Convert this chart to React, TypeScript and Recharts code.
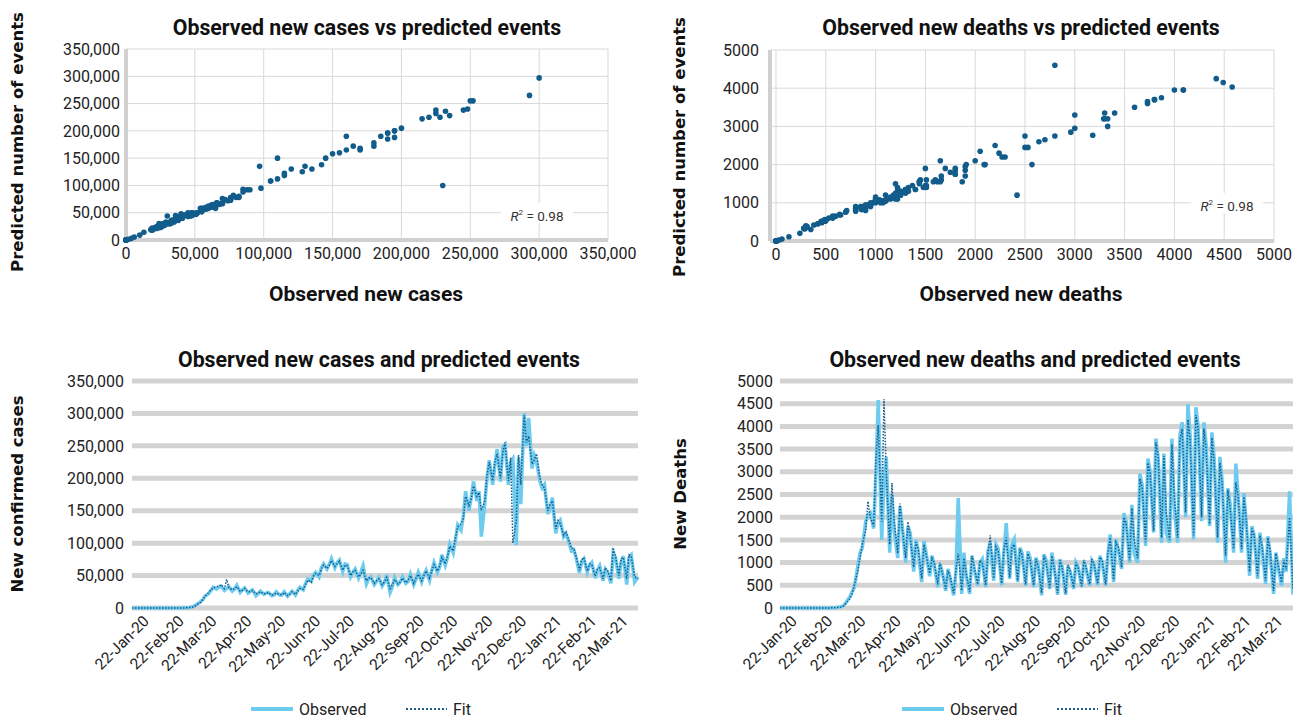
import React from 'react'
import { ScatterChart, Scatter, LineChart, Line, XAxis, YAxis, CartesianGrid } from 'recharts'

// three readings per week (Wed, Fri, Mon) from 22-Jan-20, plus the last day
const sampleDays = Array.from({ length: 64 }, (_, w) => [7 * w, 7 * w + 2, 7 * w + 5]).flat().concat([449])

const monthTicks = [0, 31, 60, 91, 121, 152, 182, 213, 244, 274, 305, 335, 366, 397, 425]
const monthLabels = [
  '22-Jan-20', '22-Feb-20', '22-Mar-20', '22-Apr-20', '22-May-20', '22-Jun-20', '22-Jul-20', '22-Aug-20',
  '22-Sep-20', '22-Oct-20', '22-Nov-20', '22-Dec-20', '22-Jan-21', '22-Feb-21', '22-Mar-21',
]

const casesObserved = [
  0, 0, 0, 0, 0, 0, 0, 0, 0, 0, 0, 0,
  0, 0, 0, 0, 0, 0, 30, 80, 200, 400, 800, 1800,
  4000, 6000, 10000, 13000, 19000, 22000, 27000, 32000, 29000, 32000, 34000, 27000,
  30000, 33000, 26000, 29000, 35000, 24000, 28000, 31000, 23000, 26000, 28000, 19000,
  22000, 26000, 21000, 23000, 24000, 19000, 20000, 25000, 20000, 20000, 25000, 18000,
  22000, 26000, 20000, 27000, 32000, 28000, 38000, 45000, 41000, 51000, 55000, 48000,
  62000, 68000, 60000, 67000, 76000, 62000, 70000, 74000, 56000, 68000, 67000, 48000,
  55000, 60000, 46000, 55000, 65000, 37000, 45000, 48000, 36000, 41000, 47000, 34000,
  40000, 51000, 24000, 33000, 47000, 36000, 40000, 48000, 38000, 41000, 52000, 36000,
  45000, 55000, 40000, 51000, 58000, 43000, 58000, 70000, 55000, 63000, 82000, 66000,
  78000, 98000, 85000, 105000, 128000, 120000, 142000, 180000, 150000, 170000, 195000, 165000,
  180000, 110000, 160000, 200000, 228000, 190000, 220000, 245000, 195000, 248000, 252000, 190000,
  225000, 230000, 97000, 232000, 160000, 300000, 250000, 293000, 215000, 235000, 225000, 195000,
  185000, 190000, 145000, 155000, 170000, 115000, 130000, 135000, 110000, 115000, 105000, 88000,
  90000, 78000, 54000, 72000, 76000, 55000, 66000, 70000, 46000, 58000, 65000, 42000,
  60000, 55000, 38000, 85000, 78000, 45000, 70000, 80000, 36000, 78000, 82000, 40000,
  48000,
]

const casesFit = [
  0, 0, 0, 0, 0, 0, 0, 0, 0, 0, 0, 0,
  0, 0, 0, 0, 0, 0, 20, 60, 150, 300, 700, 1500,
  3000, 5500, 9000, 14000, 18000, 24000, 28000, 31000, 33000, 33000, 36000, 30000,
  44000, 31000, 28000, 30000, 33000, 26000, 27000, 30000, 25000, 25000, 27000, 22000,
  23000, 25000, 22000, 22000, 24000, 20000, 21000, 23000, 21000, 20000, 24000, 19000,
  21000, 25000, 21000, 26000, 30000, 29000, 36000, 43000, 40000, 49000, 53000, 50000,
  60000, 66000, 61000, 66000, 73000, 64000, 68000, 72000, 58000, 66000, 65000, 50000,
  56000, 58000, 48000, 52000, 58000, 42000, 46000, 47000, 38000, 42000, 45000, 36000,
  40000, 47000, 30000, 36000, 44000, 37000, 40000, 46000, 39000, 43000, 50000, 38000,
  46000, 52000, 42000, 50000, 57000, 46000, 57000, 67000, 57000, 65000, 78000, 68000,
  80000, 95000, 88000, 108000, 125000, 130000, 138000, 172000, 158000, 168000, 188000, 172000,
  178000, 150000, 165000, 205000, 225000, 196000, 225000, 238000, 200000, 240000, 255000, 196000,
  232000, 100000, 135000, 236000, 190000, 297000, 255000, 265000, 222000, 228000, 238000, 200000,
  190000, 185000, 150000, 160000, 165000, 122000, 135000, 130000, 112000, 118000, 108000, 92000,
  92000, 80000, 58000, 74000, 78000, 57000, 68000, 67000, 49000, 60000, 62000, 45000,
  62000, 58000, 42000, 93000, 80000, 50000, 76000, 78000, 45000, 82000, 80000, 48000,
  45000,
]

const deathsObserved = [
  0, 0, 0, 0, 0, 0, 0, 0, 0, 0, 0, 0,
  0, 0, 0, 0, 0, 0, 2, 4, 8, 10, 15, 30,
  60, 130, 240, 350, 450, 900, 1200, 1330, 1900, 2050, 2100, 1750,
  3000, 4580, 1500, 2800, 3330, 1220, 2500, 1700, 1100, 2240, 1800, 1000,
  1800, 1650, 800, 1500, 1250, 570, 1480, 1200, 700, 1150, 950, 460,
  970, 800, 380, 860, 650, 280, 800, 2420, 310, 1220, 700, 310,
  1150, 850, 490, 1000, 1075, 460, 1250, 1450, 600, 1400, 1300, 500,
  1250, 1870, 640, 1400, 1510, 570, 1330, 1200, 490, 1250, 1100, 460,
  1110, 950, 280, 1180, 1050, 420, 1220, 900, 290, 1075, 900, 290,
  930, 800, 420, 1000, 900, 460, 1040, 850, 490, 1040, 950, 500,
  1150, 1000, 490, 1180, 1620, 570, 1510, 1300, 860, 2090, 1900, 1000,
  2270, 1200, 1000, 2960, 2700, 1370, 3290, 3000, 1660, 3730, 3300, 1440,
  3400, 1650, 1440, 3730, 2200, 1440, 3800, 4090, 2000, 4490, 3800, 1510,
  4420, 4000, 1910, 4090, 3600, 1800, 3870, 3300, 1440, 3330, 2800, 1000,
  2640, 2300, 1220, 3180, 2500, 1220, 2530, 1900, 710, 1800, 1600, 640,
  1660, 1300, 530, 1580, 1200, 310, 1220, 900, 490, 1100, 800, 2570,
  300,
]

const deathsFit = [
  0, 0, 0, 0, 0, 0, 0, 0, 0, 0, 0, 0,
  0, 0, 0, 0, 0, 0, 1, 3, 6, 8, 14, 25,
  50, 110, 200, 300, 500, 800, 1100, 1400, 1700, 2350, 2000, 1800,
  3300, 4030, 1900, 4600, 3000, 1400, 2750, 1900, 1200, 2300, 1750, 1100,
  1900, 1550, 900, 1450, 1300, 650, 1400, 1150, 760, 1100, 1000, 520,
  1000, 780, 420, 820, 680, 330, 850, 1200, 380, 1100, 760, 360,
  1150, 900, 520, 1050, 1000, 500, 1200, 1600, 650, 1350, 1250, 540,
  1300, 1550, 680, 1350, 1400, 600, 1300, 1150, 520, 1200, 1050, 500,
  1080, 900, 330, 1150, 1000, 450, 1150, 880, 330, 1050, 880, 320,
  950, 820, 450, 1000, 880, 480, 1060, 880, 520, 1080, 950, 530,
  1120, 1050, 520, 1200, 1550, 620, 1450, 1350, 900, 2000, 1850, 1050,
  2200, 1500, 1100, 2850, 2650, 1450, 3200, 2950, 1700, 3650, 3350, 1550,
  3350, 2100, 1500, 3600, 2500, 1550, 3700, 3950, 2100, 4150, 3700, 1600,
  4250, 3950, 2000, 3950, 3500, 1850, 3750, 3200, 1550, 3200, 2750, 1150,
  2600, 2200, 1300, 2770, 2450, 1300, 2450, 1950, 800, 1750, 1600, 700,
  1600, 1350, 600, 1550, 1250, 380, 1200, 950, 560, 1050, 850, 2000,
  400,
]

const casesTicks = [0, 50000, 100000, 150000, 200000, 250000, 300000, 350000]
const deathsTicks = [0, 500, 1000, 1500, 2000, 2500, 3000, 3500, 4000, 4500, 5000]
const deathsScatterTicks = [0, 1000, 2000, 3000, 4000, 5000]
const seriesNames = ['Observed', 'Fit']

const FONT = 'Roboto, sans-serif'
const AXIS_TITLE_FONT = '"DejaVu Sans", sans-serif'
const DOT = '#125c8b'
const OBS = '#6ccbee'
const FIT = '#1b5c8c'
const BAND = '#d3d3d3'

const casesRows = sampleDays.map((day, i) => ({ day, observed: casesObserved[i], fit: casesFit[i] }))
const deathsRows = sampleDays.map((day, i) => ({ day, observed: deathsObserved[i], fit: deathsFit[i] }))
const casesPairs = casesObserved.map((v, i) => ({ x: v, y: casesFit[i] }))
const deathsPairs = deathsObserved.map((v, i) => ({ x: v, y: deathsFit[i] }))

const comma = (v: number) => v.toLocaleString('en-US')
const tickStyle = { fontFamily: FONT, fontSize: 16, fill: '#222' }

const Dot = (p: any) => <circle cx={p.cx} cy={p.cy} r={2.8} fill={DOT} />

const DateTick = (props: any) => {
  const { x, y, payload } = props
  const label = monthLabels[monthTicks.indexOf(payload.value)]
  return (
    <g transform={`translate(${x + 18},${y + 14})`}>
      <text textAnchor="end" transform="rotate(-45)" fontFamily={FONT} fontSize={15.5} fill="#222">
        {label}
      </text>
    </g>
  )
}

const Title = ({ cx, y, text, size = 21.3 }: { cx: number; y: number; text: string; size?: number }) => (
  <div
    style={{
      position: 'absolute', left: cx - 300, top: y, width: 600, textAlign: 'center',
      fontFamily: FONT, fontWeight: 700, fontSize: size, color: '#111', lineHeight: '24px',
    }}
  >
    {text}
  </div>
)

const VTitle = ({ cx, cy, text }: { cx: number; cy: number; text: string }) => (
  <div
    style={{
      position: 'absolute', left: cx - 200, top: cy - 12, width: 400, height: 24, textAlign: 'center',
      fontFamily: AXIS_TITLE_FONT, fontWeight: 700, fontSize: 16.5, color: '#111', lineHeight: '24px',
      transform: 'rotate(-90deg)',
    }}
  >
    {text}
  </div>
)

const RSquared = ({ cx, y }: { cx: number; y: number }) => (
  <div
    style={{
      position: 'absolute', left: cx - 36, top: y - 10, width: 72, height: 20, background: '#fff',
      textAlign: 'center', fontFamily: FONT, fontSize: 13.5, color: '#333', lineHeight: '20px',
    }}
  >
    <i>R</i>
    <sup style={{ fontSize: 8 }}>2</sup> = 0.98
  </div>
)

const LegendRow = ({ left }: { left: number }) => (
  <div style={{ position: 'absolute', left, top: 698, height: 22, display: 'flex', alignItems: 'center', fontFamily: FONT, fontSize: 16, color: '#222' }}>
    <svg width={42} height={8}><line x1={0} y1={4} x2={42} y2={4} stroke={OBS} strokeWidth={4} /></svg>
    <span style={{ marginLeft: 6, width: 107 }}>{seriesNames[0]}</span>
    <svg width={41} height={8}><line x1={0} y1={4} x2={41} y2={4} stroke={FIT} strokeWidth={2} strokeDasharray="2 2" /></svg>
    <span style={{ marginLeft: 6 }}>{seriesNames[1]}</span>
  </div>
)

const App: React.FC = () => {
  return (
    <div style={{ position: 'absolute', left: 0, top: 0, width: 1293, height: 717, overflow: 'hidden', background: '#fff' }}>
      {/* top left: cases scatter */}
      <div style={{ position: 'absolute', left: 0, top: 0 }}>
        <ScatterChart width={650} height={270} margin={{ top: 49, right: 42, bottom: 0, left: 0 }}>
          <CartesianGrid stroke="#d9d9d9" />
          <XAxis type="number" dataKey="x" domain={[0, 350000]} ticks={casesTicks} tickFormatter={comma}
            height={30} tickSize={0} tickMargin={8} tick={tickStyle} axisLine={{ stroke: '#d0d0d0', strokeWidth: 4 }} interval={0} />
          <YAxis type="number" dataKey="y" domain={[0, 350000]} ticks={casesTicks} tickFormatter={comma}
            width={126} tickSize={0} tickMargin={6} tick={tickStyle} axisLine={{ stroke: '#d0d0d0', strokeWidth: 4 }} interval={0} />
          <Scatter data={casesPairs} shape={Dot} isAnimationActive={false} />
        </ScatterChart>
      </div>

      {/* top right: deaths scatter */}
      <div style={{ position: 'absolute', left: 650, top: 0 }}>
        <ScatterChart width={643} height={270} margin={{ top: 50, right: 19, bottom: 0, left: 0 }}>
          <CartesianGrid stroke="#d9d9d9" />
          <XAxis type="number" dataKey="x" domain={[-60, 5000]} ticks={deathsTicks}
            height={29} tickSize={0} tickMargin={8} tick={tickStyle} axisLine={{ stroke: '#d0d0d0', strokeWidth: 4 }} interval={0} />
          <YAxis type="number" dataKey="y" domain={[0, 5000]} ticks={deathsScatterTicks}
            width={120} tickSize={0} tickMargin={11} tick={tickStyle} axisLine={{ stroke: '#d0d0d0', strokeWidth: 4 }} interval={0} />
          <Scatter data={deathsPairs} shape={Dot} isAnimationActive={false} />
        </ScatterChart>
      </div>

      {/* bottom left: cases over time */}
      <div style={{ position: 'absolute', left: 0, top: 340 }}>
        <LineChart width={650} height={377} data={casesRows} margin={{ top: 41, right: 12, bottom: 0, left: 0 }}>
          <CartesianGrid vertical={false} stroke={BAND} strokeWidth={5} />
          <XAxis type="number" dataKey="day" domain={[0, 449]} ticks={monthTicks} tick={<DateTick />}
            height={109} tickSize={0} tickMargin={0} axisLine={false} interval={0} />
          <YAxis domain={[0, 350000]} ticks={casesTicks} tickFormatter={comma} width={132}
            tickSize={0} tickMargin={8} tick={tickStyle} axisLine={false} interval={0} />
          <Line type="linear" dataKey="observed" stroke={OBS} strokeWidth={3.5} dot={false} isAnimationActive={false} />
          <Line type="linear" dataKey="fit" stroke={FIT} strokeWidth={1.5} strokeDasharray="1.5 1.5" dot={false} isAnimationActive={false} />
        </LineChart>
      </div>

      {/* bottom right: deaths over time */}
      <div style={{ position: 'absolute', left: 650, top: 340 }}>
        <LineChart width={643} height={377} data={deathsRows} margin={{ top: 41, right: 0, bottom: 0, left: 0 }}>
          <CartesianGrid vertical={false} stroke={BAND} strokeWidth={5} />
          <XAxis type="number" dataKey="day" domain={[0, 449]} ticks={monthTicks} tick={<DateTick />}
            height={109} tickSize={0} tickMargin={0} axisLine={false} interval={0} />
          <YAxis domain={[0, 5000]} ticks={deathsTicks} width={130}
            tickSize={0} tickMargin={7} tick={tickStyle} axisLine={false} interval={0} />
          <Line type="linear" dataKey="observed" stroke={OBS} strokeWidth={3.5} dot={false} isAnimationActive={false} />
          <Line type="linear" dataKey="fit" stroke={FIT} strokeWidth={1.5} strokeDasharray="1.5 1.5" dot={false} isAnimationActive={false} />
        </LineChart>
      </div>

      <Title cx={367} y={16} text="Observed new cases vs predicted events" />
      <Title cx={1021} y={16} text="Observed new deaths vs predicted events" />
      <Title cx={379} y={348} text="Observed new cases and predicted events" />
      <Title cx={1035} y={348} text="Observed new deaths and predicted events" />
      <Title cx={366} y={282} text="Observed new cases" size={21} />
      <Title cx={1021} y={282} text="Observed new deaths" size={21} />

      <VTitle cx={18} cy={142} text="Predicted number of events" />
      <VTitle cx={680} cy={147} text="Predicted number of events" />
      <VTitle cx={18} cy={494} text="New confirmed cases" />
      <VTitle cx={681} cy={494} text="New Deaths" />

      <RSquared cx={537} y={213} />
      <RSquared cx={1227} y={203} />

      <LegendRow left={251} />
      <LegendRow left={902} />
    </div>
  )
}

export default App
